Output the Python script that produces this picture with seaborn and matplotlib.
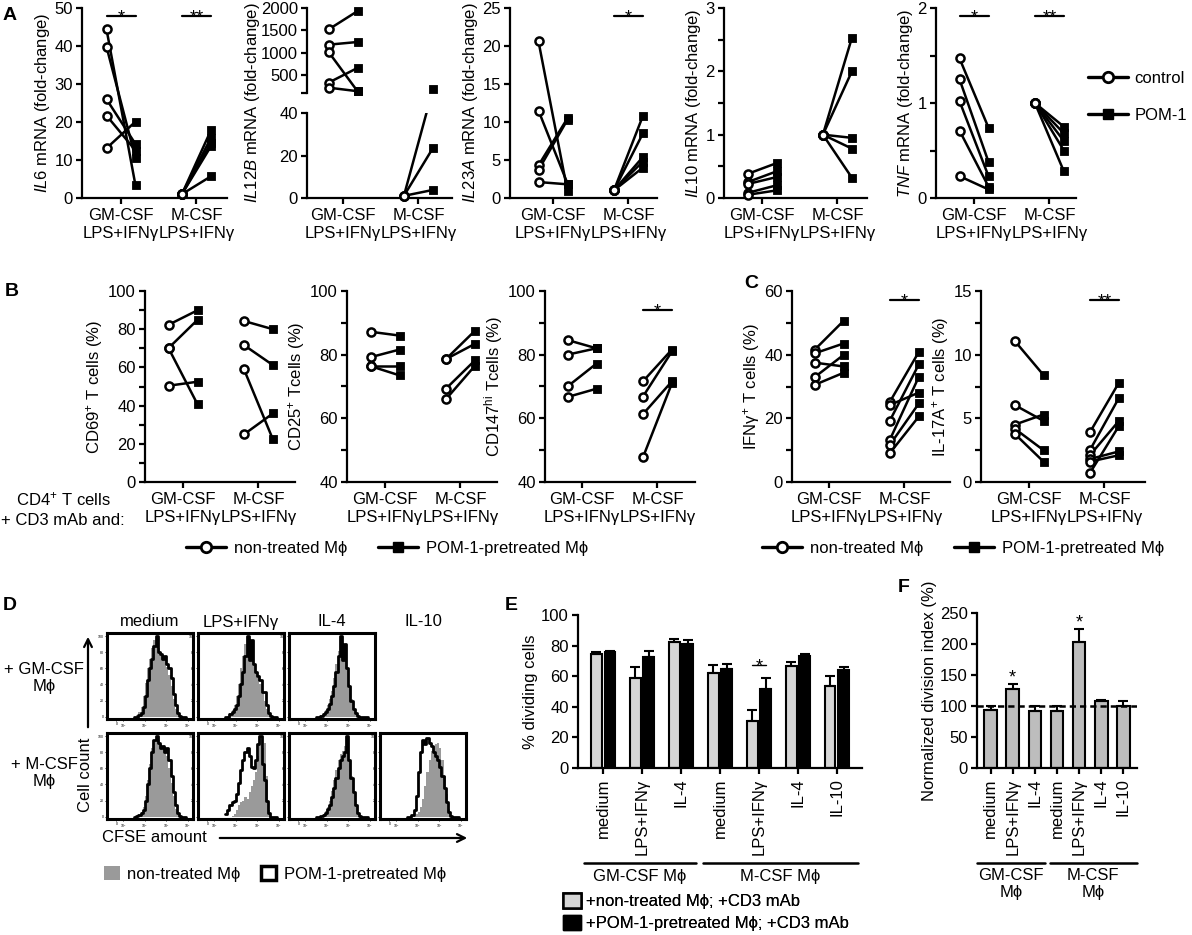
import numpy as np
import pandas as pd
import seaborn as sns
import matplotlib.pyplot as plt
from matplotlib.lines import Line2D
from matplotlib.patches import Patch
from matplotlib.ticker import MultipleLocator

# ---- data ----
cond_labels = ['GM-CSF\nLPS+IFNγ', 'M-CSF\nLPS+IFNγ']

# A: mRNA fold-change, control -> POM-1 pairs
il6_gm_ctrl = [44.4, 39.8, 26.0, 21.7, 13.1]
il6_gm_pom = [3.3, 10.5, 14.2, 12.5, 20.1]
il6_m_ctrl = [1, 1, 1, 1, 1]
il6_m_pom = [17.8, 15.8, 14.5, 13.6, 5.7]
il12b_gm_ctrl = [1520, 1180, 1020, 330, 220]
il12b_gm_pom = [1930, 1240, 140, 660, 140]
il12b_m_ctrl = [1, 1, 1]
il12b_m_pom = [180, 23.5, 3.8]
il23a_gm_ctrl = [20.6, 11.5, 4.3, 3.7, 2.1]
il23a_gm_pom = [0.9, 1.9, 10.5, 10.3, 1.8]
il23a_m_ctrl = [1, 1, 1, 1, 1]
il23a_m_pom = [10.8, 8.5, 5.4, 4.8, 4.0]
il10_gm_ctrl = [0.38, 0.25, 0.22, 0.08, 0.05]
il10_gm_pom = [0.55, 0.42, 0.33, 0.2, 0.12]
il10_m_ctrl = [1, 1, 1, 1, 1]
il10_m_pom = [2.53, 2.0, 0.95, 0.78, 0.32]
tnf_gm_ctrl = [1.47, 1.25, 1.02, 0.71, 0.23]
tnf_gm_pom = [0.74, 0.38, 0.23, 0.12, 0.09]
tnf_m_ctrl = [1, 1, 1, 1, 1]
tnf_m_pom = [0.75, 0.68, 0.6, 0.5, 0.28]

# B: T cell activation markers (%)
cd69_gm_ctrl = [82.3, 70.1, 70.1, 50.4]
cd69_gm_pom = [89.9, 84.9, 40.7, 52.5]
cd69_m_ctrl = [84.3, 71.7, 59.1, 24.9]
cd69_m_pom = [80.0, 61.2, 22.3, 35.9]
cd25_gm_ctrl = [87.2, 79.2, 76.4, 76.4]
cd25_gm_pom = [86.0, 81.6, 76.4, 73.5]
cd25_m_ctrl = [78.6, 78.6, 69.3, 66.0]
cd25_m_pom = [87.5, 83.4, 78.2, 76.5]
cd147_gm_ctrl = [84.6, 80.0, 70.0, 66.7]
cd147_gm_pom = [82.0, 82.0, 77.2, 69.3]
cd147_m_ctrl = [71.6, 66.8, 61.3, 47.7]
cd147_m_pom = [81.6, 81.0, 71.6, 71.0]

# C: cytokine-producing T cells (%)
ifng_gm_ctrl = [41.5, 40.4, 37.5, 32.9, 30.5]
ifng_gm_pom = [50.6, 43.5, 36.3, 39.9, 34.3]
ifng_m_ctrl = [25.2, 24.2, 19.3, 13.3, 11.7, 9.1]
ifng_m_pom = [40.9, 28.1, 37.0, 33.1, 24.7, 20.6]
il17_gm_ctrl = [11.1, 6.05, 4.5, 4.2, 3.8]
il17_gm_pom = [8.4, 4.8, 5.3, 2.5, 1.6]
il17_m_ctrl = [3.9, 2.5, 2.1, 1.8, 1.6, 0.7]
il17_m_pom = [7.8, 6.6, 4.8, 2.4, 2.1, 4.4]

# D: CFSE histograms (% of max), log10 CFSE bins
cfse_edges = [2.5, 2.6, 2.7, 2.8, 2.9, 3.0, 3.1, 3.2, 3.3, 3.4, 3.5, 3.6, 3.7,
              3.8, 3.9, 4.0, 4.1, 4.2, 4.3, 4.4, 4.5, 4.6, 4.7, 4.8, 4.9]
gm_medium_gray = [0, 2, 6, 12, 25, 42, 60, 72, 85, 95, 98, 85, 80, 75, 70, 62, 52, 38, 22, 10, 3, 0, 0, 0]
gm_medium_black = [0, 0, 2, 5, 12, 25, 45, 60, 72, 88, 100, 80, 78, 72, 75, 65, 60, 48, 28, 15, 5, 1, 0, 0]
gm_lps_gray = [0, 1, 4, 8, 14, 25, 40, 60, 75, 90, 98, 85, 75, 65, 55, 48, 40, 30, 20, 10, 3, 0, 0, 0]
gm_lps_black = [0, 0, 3, 6, 10, 15, 25, 40, 55, 75, 100, 70, 95, 65, 55, 50, 45, 30, 30, 15, 5, 1, 0, 0]
gm_il4_gray = [0, 0, 2, 4, 8, 14, 22, 32, 48, 65, 82, 95, 85, 88, 62, 40, 22, 10, 3, 0, 0, 0, 0, 0]
gm_il4_black = [0, 0, 1, 3, 6, 10, 16, 25, 38, 55, 75, 100, 70, 90, 60, 38, 20, 10, 4, 1, 0, 0, 0, 0]
m_medium_gray = [0, 1, 3, 6, 12, 25, 45, 65, 85, 95, 98, 95, 90, 85, 82, 75, 60, 42, 25, 10, 3, 0, 0, 0]
m_medium_black = [0, 1, 2, 4, 8, 20, 40, 60, 80, 95, 100, 92, 85, 88, 80, 85, 70, 50, 30, 14, 5, 1, 0, 0]
m_lps_gray = [0, 0, 0, 1, 3, 8, 14, 18, 20, 24, 22, 30, 38, 45, 55, 75, 100, 85, 92, 50, 8, 0, 0, 0]
m_lps_black = [3, 8, 14, 18, 20, 28, 42, 58, 70, 80, 85, 75, 62, 60, 70, 90, 100, 65, 45, 20, 5, 0, 0, 0]
m_il4_gray = [0, 0, 1, 3, 7, 12, 20, 32, 45, 58, 70, 78, 82, 88, 92, 72, 50, 32, 16, 5, 1, 0, 0, 0]
m_il4_black = [0, 0, 1, 2, 5, 9, 15, 24, 35, 48, 60, 70, 75, 80, 100, 70, 48, 30, 15, 5, 1, 0, 0, 0]
m_il10_gray = [0, 0, 0, 1, 3, 6, 12, 22, 38, 55, 70, 82, 88, 90, 92, 85, 70, 50, 28, 10, 2, 0, 0, 0]
m_il10_black = [0, 0, 2, 8, 25, 55, 80, 95, 90, 98, 92, 88, 80, 75, 70, 62, 50, 35, 18, 6, 1, 0, 0, 0]

# E: % dividing cells (mean, upper SEM)
bar_keys = ['gm_med', 'gm_lps', 'gm_il4', 'm_med', 'm_lps', 'm_il4', 'm_il10']
bar_labels = ['medium', 'LPS+IFNγ', 'IL-4', 'medium', 'LPS+IFNγ', 'IL-4', 'IL-10']
e_ctrl = [74.6, 59.1, 82.6, 62.0, 30.9, 66.7, 53.9]
e_ctrl_err = [1.5, 6.8, 1.7, 5.4, 7.1, 2.9, 6.5]
e_pom = [75.7, 72.8, 81.3, 64.8, 51.5, 73.3, 64.1]
e_pom_err = [0.8, 3.7, 2.4, 3.0, 7.6, 1.0, 2.2]

# F: normalized division index (%)
f_vals = [94.0, 127.4, 92.5, 92.5, 203.0, 107.5, 99.5]
f_err = [6.5, 8.1, 8.0, 7.0, 21.7, 2.7, 8.0]

# ---- style ----
sns.set_theme(style="ticks")
plt.rcParams['font.family'] = ['Liberation Sans', 'DejaVu Sans']
plt.rcParams.update({
    'mathtext.fontset': 'custom',
    'mathtext.rm': 'Liberation Sans',
    'mathtext.it': 'Liberation Sans:italic',
    'mathtext.bf': 'Liberation Sans:bold',
    'axes.linewidth': 1.6, 'axes.edgecolor': 'black', 'axes.labelcolor': 'black',
    'text.color': 'black', 'xtick.color': 'black', 'ytick.color': 'black',
    'xtick.major.width': 1.6, 'ytick.major.width': 1.6, 'ytick.minor.width': 1.6,
    'xtick.major.size': 4.5, 'ytick.major.size': 4.5, 'ytick.minor.size': 4.5,
    'xtick.labelsize': 12, 'ytick.labelsize': 12, 'axes.labelsize': 12,
    'xtick.major.pad': 3, 'ytick.major.pad': 2,
})

W, H = 1192, 935
fig = plt.figure(figsize=(W / 100, H / 100), dpi=100)


def add_ax(l, t, r, b):
    return fig.add_axes([l / W, 1 - b / H, (r - l) / W, (b - t) / H])


def pair_frame(gm_ctrl, gm_pom, m_ctrl, m_pom):
    rows = []
    for grp, ctrl, pom, x0 in (('GM', gm_ctrl, gm_pom, 0.0), ('M', m_ctrl, m_pom, 2.6)):
        for i, (c, p) in enumerate(zip(ctrl, pom)):
            rows += [(grp + str(i), x0, 'control', c), (grp + str(i), x0 + 1, 'POM-1', p)]
    return pd.DataFrame(rows, columns=['pair', 'x', 'treat', 'value'])


def paired(ax, gm_ctrl, gm_pom, m_ctrl, m_pom, keep=None):
    df = pair_frame(gm_ctrl, gm_pom, m_ctrl, m_pom)
    lines = df
    if keep is not None:
        inside = df.groupby('pair')['value'].transform(lambda v: keep(v).all())
        lines = df[inside.astype(bool)]
    sns.lineplot(data=lines, x='x', y='value', units='pair', estimator=None,
                 color='black', linewidth=1.8, ax=ax, zorder=2)
    pts = df if keep is None else df[keep(df['value'])]
    sns.scatterplot(data=pts[pts.treat == 'control'], x='x', y='value', marker='o',
                    color='white', edgecolor='black', linewidth=1.8, s=34, ax=ax,
                    zorder=3, clip_on=False)
    sns.scatterplot(data=pts[pts.treat == 'POM-1'], x='x', y='value', marker='s',
                    color='black', edgecolor='black', linewidth=0.6, s=38, ax=ax,
                    zorder=3, clip_on=False)
    ax.set_xlabel('')
    ax.set_ylabel('')
    return df


def style_pair(ax, l, r, tick, ylim, yticks, minor=None, ylabel='', xaxis=True):
    ax.set_xlim(0.5 - (tick - l) / 29, 0.5 + (r - tick) / 29)
    ax.set_ylim(*ylim)
    ax.set_yticks(yticks)
    if minor:
        ax.yaxis.set_minor_locator(MultipleLocator(minor))
    if xaxis:
        ax.set_xticks([0.5, 3.1], cond_labels)
    ax.set_ylabel(ylabel, labelpad=2)
    sns.despine(ax=ax)


def sig(ax, x0, frac, text):
    tr = ax.get_xaxis_transform()
    ax.plot([x0, x0 + 1], [frac, frac], color='black', lw=1.6, transform=tr, clip_on=False)
    ax.annotate(text, (x0 + 0.5, frac), xycoords=tr, xytext=(0, -4.5),
                textcoords='offset points', ha='center', va='baseline', fontsize=13,
                annotation_clip=False)


# ---- panel A ----
ax = add_ax(82, 8, 227, 198)
paired(ax, il6_gm_ctrl, il6_gm_pom, il6_m_ctrl, il6_m_pom)
style_pair(ax, 82, 227, 121, (0, 50), [0, 10, 20, 30, 40, 50], ylabel=r'$\mathit{IL6}$ mRNA (fold-change)')
sig(ax, 0, 0.958, '*')
sig(ax, 2.6, 0.958, '**')

# IL12B: broken y axis (upper 100-2000, lower 0-40)
ax_top = add_ax(307, 8, 452, 93)
ax_bot = add_ax(307, 113, 452, 198)
il12b_df = paired(ax_top, il12b_gm_ctrl, il12b_gm_pom, il12b_m_ctrl, il12b_m_pom, keep=lambda v: v > 40)
paired(ax_bot, il12b_gm_ctrl, il12b_gm_pom, il12b_m_ctrl, il12b_m_pom, keep=lambda v: v <= 40)
style_pair(ax_top, 307, 452, 343, (100, 2000), [100, 500, 1000, 1500, 2000], xaxis=False)
ax_top.set_yticklabels(['', '500', '1000', '1500', '2000'])
ax_top.set_xticks([])
ax_top.spines['bottom'].set_visible(False)
style_pair(ax_bot, 307, 452, 343, (0, 40), [0, 20, 40])
# pairs that cross the break: straight line in display space, clipped by each segment
for _, grp in il12b_df.groupby('pair'):
    lo = grp[grp['value'] <= 40]
    hi = grp[grp['value'] > 40]
    if len(lo) and len(hi):
        p_lo = ax_bot.transData.transform((lo['x'].iloc[0], lo['value'].iloc[0]))
        p_hi = ax_top.transData.transform((hi['x'].iloc[0], hi['value'].iloc[0]))
        for a in (ax_top, ax_bot):
            q = a.transData.inverted().transform([p_lo, p_hi])
            a.plot(q[:, 0], q[:, 1], color='black', lw=1.8, zorder=2)

ax = add_ax(510, 8, 657, 198)
paired(ax, il23a_gm_ctrl, il23a_gm_pom, il23a_m_ctrl, il23a_m_pom)
style_pair(ax, 510, 657, 553, (0, 25), [0, 5, 10, 15, 20, 25], ylabel=r'$\mathit{IL23A}$ mRNA (fold-change)')
sig(ax, 2.6, 0.958, '*')

ax = add_ax(724, 8, 867, 198)
paired(ax, il10_gm_ctrl, il10_gm_pom, il10_m_ctrl, il10_m_pom)
style_pair(ax, 724, 867, 762, (0, 3), [0, 1, 2, 3], minor=0.5, ylabel=r'$\mathit{IL10}$ mRNA (fold-change)')

ax = add_ax(936, 8, 1076, 198)
paired(ax, tnf_gm_ctrl, tnf_gm_pom, tnf_m_ctrl, tnf_m_pom)
style_pair(ax, 936, 1076, 974, (0, 2), [0, 1, 2], minor=0.5, ylabel=r'$\mathit{TNF}$ mRNA (fold-change)')
sig(ax, 0, 0.958, '*')
sig(ax, 2.6, 0.958, '**')

# ---- panels B and C ----
ax = add_ax(145, 291, 295, 482)
paired(ax, cd69_gm_ctrl, cd69_gm_pom, cd69_m_ctrl, cd69_m_pom)
style_pair(ax, 145, 295, 183, (0, 100), [0, 20, 40, 60, 80, 100], minor=10, ylabel=r'CD69$^{+}$ T cells (%)')

ax = add_ax(347, 291, 497, 482)
paired(ax, cd25_gm_ctrl, cd25_gm_pom, cd25_m_ctrl, cd25_m_pom)
style_pair(ax, 347, 497, 385, (40, 100), [40, 60, 80, 100], minor=10, ylabel=r'CD25$^{+}$ Tcells (%)')

ax = add_ax(545, 291, 695, 482)
paired(ax, cd147_gm_ctrl, cd147_gm_pom, cd147_m_ctrl, cd147_m_pom)
style_pair(ax, 545, 695, 582, (40, 100), [40, 60, 80, 100], minor=10, ylabel=r'CD147$^{\mathrm{hi}}$ Tcells (%)')
sig(ax, 2.6, 0.9, '*')

ax = add_ax(792, 291, 950, 482)
paired(ax, ifng_gm_ctrl, ifng_gm_pom, ifng_m_ctrl, ifng_m_pom)
style_pair(ax, 792, 950, 829, (0, 60), [0, 20, 40, 60], minor=10, ylabel=r'IFNγ$^{+}$ T cells (%)')
sig(ax, 2.6, 0.952, '*')

ax = add_ax(981, 291, 1145, 482)
paired(ax, il17_gm_ctrl, il17_gm_pom, il17_m_ctrl, il17_m_pom)
style_pair(ax, 981, 1145, 1029, (0, 15), [0, 5, 10, 15], minor=2.5, ylabel=r'IL-17A$^{+}$ T cells (%)')
sig(ax, 2.6, 0.952, '**')

# ---- panel D: CFSE histograms ----
cfse_centers = [(a + b) / 2 for a, b in zip(cfse_edges[:-1], cfse_edges[1:])]
hist_cells = [
    (107, 633, gm_medium_gray, gm_medium_black), (198, 633, gm_lps_gray, gm_lps_black),
    (289, 633, gm_il4_gray, gm_il4_black),
    (107, 733, m_medium_gray, m_medium_black), (198, 733, m_lps_gray, m_lps_black),
    (289, 733, m_il4_gray, m_il4_black), (380, 733, m_il10_gray, m_il10_black),
]
for x0, y0, gray, black in hist_cells:
    ax = add_ax(x0, y0, x0 + 86, y0 + 86)
    sns.histplot(x=cfse_centers, weights=gray, bins=cfse_edges, element='step', fill=True,
                 color='#9a9a9a', alpha=1, linewidth=0, ax=ax)
    sns.histplot(x=cfse_centers, weights=black, bins=cfse_edges, element='step', fill=False,
                 color='black', linewidth=2, ax=ax)
    ax.set_xlim(1.24, 5.24)
    ax.set_ylim(-3, 104)
    ax.set_xticks([1.68, 2, 3, 4, 5], ['0', '10$^2$', '10$^3$', '10$^4$', '10$^5$'])
    ax.set_yticks([0, 20, 40, 60, 80, 100])
    ax.tick_params(labelsize=2.5, length=1.5, width=0.6, pad=1)
    ax.set_xlabel('')
    ax.set_ylabel('')
    for sp in ax.spines.values():
        sp.set_linewidth(2.2)

# ---- panel E ----
axE = add_ax(578, 615, 862, 768)
e_df = pd.DataFrame({'cond': bar_keys + bar_keys,
                     'treat': ['ctrl'] * len(bar_keys) + ['pom'] * len(bar_keys),
                     'value': e_ctrl + e_pom})
sns.barplot(data=e_df, x='cond', y='value', hue='treat', order=bar_keys, hue_order=['ctrl', 'pom'],
            palette={'ctrl': '#d6d6d6', 'pom': 'black'}, saturation=1, edgecolor='black',
            linewidth=1.5, width=0.7, gap=0.2, errorbar=None, legend=False, ax=axE)
for cont, errs in zip(axE.containers, [e_ctrl_err, e_pom_err]):
    for bar, err in zip(cont, errs):
        axE.errorbar(bar.get_x() + bar.get_width() / 2, bar.get_height(), yerr=[[0], [err]],
                     color='black', elinewidth=1.5, capsize=3.5, capthick=1.5, zorder=1)
axE.set_ylim(0, 100)
axE.set_yticks([0, 20, 40, 60, 80, 100])
axE.set_xticks(range(len(bar_labels)), bar_labels, rotation=90)
axE.set_xlabel('')
axE.set_ylabel('% dividing cells', labelpad=2)
sns.despine(ax=axE)
b_ctrl, b_pom = axE.containers[0][4], axE.containers[1][4]
y_sig = b_pom.get_height() + e_pom_err[4] + 8
xs = [b_ctrl.get_x() + b_ctrl.get_width() / 2, b_pom.get_x() + b_pom.get_width() / 2]
axE.plot(xs, [y_sig, y_sig], color='black', lw=1)
axE.annotate('*', (sum(xs) / 2, y_sig), xytext=(0, -4.5), textcoords='offset points',
             ha='center', va='baseline', fontsize=13)

# ---- panel F ----
axF = add_ax(977, 613, 1137, 768)
sns.barplot(x=bar_keys, y=f_vals, order=bar_keys, color='#bdbdbd', saturation=1,
            edgecolor='black', linewidth=1.5, width=0.57, errorbar=None, ax=axF)
for bar, err in zip(axF.patches, f_err):
    axF.errorbar(bar.get_x() + bar.get_width() / 2, bar.get_height(), yerr=[[0], [err]],
                 color='black', elinewidth=1.5, capsize=3.5, capthick=1.5, zorder=1)
for i in (1, 4):
    bar = axF.patches[i]
    axF.annotate('*', (bar.get_x() + bar.get_width() / 2, bar.get_height() + f_err[i]),
                 xytext=(0, 1), textcoords='offset points', ha='center', va='baseline', fontsize=13)
axF.axhline(100, color='black', lw=1.8, ls=(0, (2.5, 1.6)), zorder=4)
axF.set_ylim(0, 250)
axF.set_yticks([0, 50, 100, 150, 200, 250])
axF.set_xticks(range(len(bar_labels)), bar_labels, rotation=90)
axF.set_xlabel('')
axF.set_ylabel('Normalized division index (%)', labelpad=2)
sns.despine(ax=axF)

# ---- overlay for annotations (pixel coordinates) ----
over = fig.add_axes([0, 0, 1, 1], zorder=10)
over.set_xlim(0, W)
over.set_ylim(H, 0)
over.axis('off')

for letter, x, y in (('A', 3, 15), ('B', 5, 291), ('C', 744, 284), ('D', 3, 605),
                     ('E', 505, 605), ('F', 898, 588)):
    over.text(x, y, letter, fontsize=14, fontweight='bold', ha='left', va='center')

over.text(253, 103, r'$\mathit{IL12B}$ mRNA (fold-change)', rotation=90, ha='center', va='center', fontsize=12)
over.text(63, 509, 'CD4$^{+}$ T cells\n+ CD3 mAb and:', ha='center', va='center', fontsize=12,
          linespacing=1.45)

# panel D labels
for name, x in zip(['medium', 'LPS+IFNγ', 'IL-4', 'IL-10'], [150, 241, 332, 423]):
    over.text(x, 622, name, ha='center', va='center', fontsize=12)
over.text(44, 678, '+ GM-CSF\nMϕ', ha='center', va='center', fontsize=12)
over.text(44, 773, '+ M-CSF\nMϕ', ha='center', va='center', fontsize=12)
over.text(85, 775, 'Cell count', rotation=90, ha='center', va='center', fontsize=12)
over.annotate('', xy=(88, 634), xytext=(88, 730),
              arrowprops=dict(arrowstyle='->', lw=1.6, color='black', mutation_scale=14))
over.text(102, 838, 'CFSE amount', ha='left', va='center', fontsize=12)
over.annotate('', xy=(470, 838), xytext=(217, 838),
              arrowprops=dict(arrowstyle='->', lw=1.6, color='black', mutation_scale=14))

# E/F group lines and labels
for x0, x1 in ((584, 696), (703, 858), (977, 1045), (1050, 1137)):
    over.plot([x0, x1], [863, 863], color='black', lw=1.8)
over.text(640, 877, 'GM-CSF Mϕ', ha='center', va='center', fontsize=12)
over.text(780, 877, 'M-CSF Mϕ', ha='center', va='center', fontsize=12)
over.text(1011, 868, 'GM-CSF\nMϕ', ha='center', va='top', fontsize=12)
over.text(1093, 868, 'M-CSF\nMϕ', ha='center', va='top', fontsize=12)

# legends
ctrl_h = Line2D([0], [0], color='black', lw=2.4, marker='o', ms=7.5, mfc='white', mec='black', mew=2)
pom_h = Line2D([0], [0], color='black', lw=2.4, marker='s', ms=7.5, mfc='black', mec='black')
legA = over.legend([ctrl_h, pom_h], ['control', 'POM-1'], loc='center left',
                   bbox_to_anchor=(1088, 97), bbox_transform=over.transData, frameon=False,
                   fontsize=12, handlelength=2.4, handletextpad=0.4, labelspacing=1.3,
                   borderpad=0, borderaxespad=0)
over.add_artist(legA)
for x in (186, 762):
    leg = over.legend([ctrl_h, pom_h], ['non-treated Mϕ', 'POM-1-pretreated Mϕ'], loc='center left',
                      bbox_to_anchor=(x, 548), bbox_transform=over.transData, frameon=False,
                      fontsize=12, ncol=2, handlelength=2.4, handletextpad=0.5,
                      columnspacing=1.8, borderpad=0, borderaxespad=0)
    over.add_artist(leg)
legD = over.legend([Patch(facecolor='#9a9a9a', edgecolor='none'),
                    Patch(facecolor='white', edgecolor='black', linewidth=2.5)],
                   ['non-treated Mϕ', 'POM-1-pretreated Mϕ'], loc='center left',
                   bbox_to_anchor=(104, 874), bbox_transform=over.transData, frameon=False,
                   fontsize=12, ncol=2, handlelength=0.95, handleheight=0.95, handletextpad=0.45,
                   columnspacing=1.2, borderpad=0, borderaxespad=0)
over.add_artist(legD)
legE = over.legend([Patch(facecolor='#d6d6d6', edgecolor='black', linewidth=1.8),
                    Patch(facecolor='black', edgecolor='black')],
                   ['+non-treated Mϕ; +CD3 mAb', '+POM-1-pretreated Mϕ; +CD3 mAb'],
                   loc='center left', bbox_to_anchor=(563, 912), bbox_transform=over.transData,
                   frameon=False, fontsize=12, handlelength=1.1, handleheight=1.0,
                   handletextpad=0.3, labelspacing=0.35, borderpad=0, borderaxespad=0)
over.add_artist(legE)

fig.savefig('out.png', dpi=100)
